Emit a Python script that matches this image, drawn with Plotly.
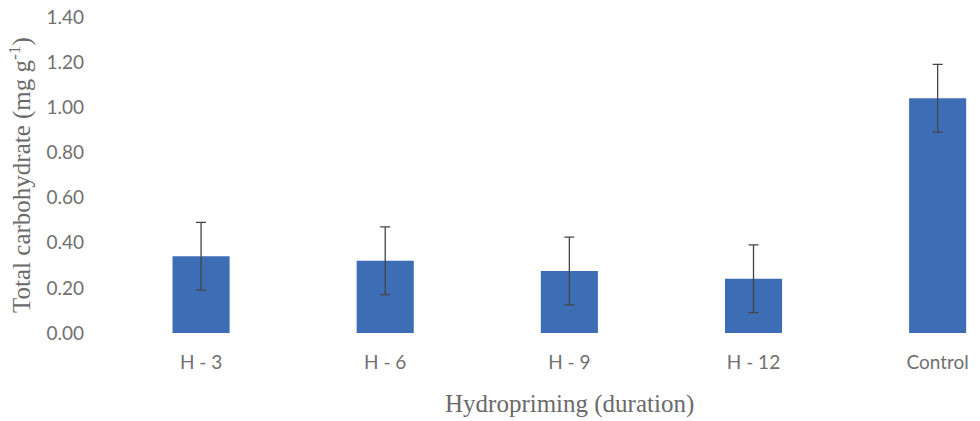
import plotly.graph_objects as go

# Total carbohydrate content by hydropriming duration
categories = ["H - 3", "H - 6", "H - 9", "H - 12", "Control"]
carbohydrate = [0.34, 0.32, 0.275, 0.24, 1.04]
std_error = [0.15, 0.15, 0.15, 0.15, 0.15]
y_ticks = [0.0, 0.2, 0.4, 0.6, 0.8, 1.0, 1.2, 1.4]
y_tick_labels = ["0.00", "0.20", "0.40", "0.60", "0.80", "1.00", "1.20", "1.40"]

tick_font = dict(family="Lato", size=19, color="#707070")
title_font = dict(family="Liberation Serif", size=25, color="#6a6a6a")

fig = go.Figure(
    go.Bar(
        x=list(range(len(categories))),
        y=carbohydrate,
        width=0.31,
        marker=dict(color="#3d6db5", line=dict(width=0)),
        error_y=dict(type="data", array=std_error, visible=True,
                     color="#444444", thickness=1.3, width=5),
    )
)

fig.update_layout(
    width=980, height=421,
    margin=dict(l=109, r=0, t=17, b=88),
    paper_bgcolor="white", plot_bgcolor="white",
    showlegend=False,
    font=dict(family="Lato", color="#6a6a6a"),
)

# x title centred on the middle category of the full category span
fig.add_annotation(
    text="Hydropriming (duration)", xref="x", x=2, yref="paper", y=0,
    yshift=-71, yanchor="middle", showarrow=False, font=title_font,
)

fig.update_xaxes(
    tickvals=list(range(len(categories))), ticktext=categories,
    range=[-0.5, 4.23],
    showgrid=False, showline=False, zeroline=False, ticks="",
    tickfont=tick_font, ticklabelstandoff=16, automargin=False,
)

fig.update_yaxes(
    range=[0, 1.4], tickvals=y_ticks, ticktext=y_tick_labels,
    showgrid=False, showline=False, zeroline=False, ticks="",
    tickfont=tick_font, ticklabelstandoff=24, automargin=False,
    title=dict(text="Total carbohydrate (mg g<sup>-1</sup>)", standoff=8,
               font=dict(family="Liberation Serif", size=25, color="#6a6a6a")),
)

fig.write_html("out.html")
